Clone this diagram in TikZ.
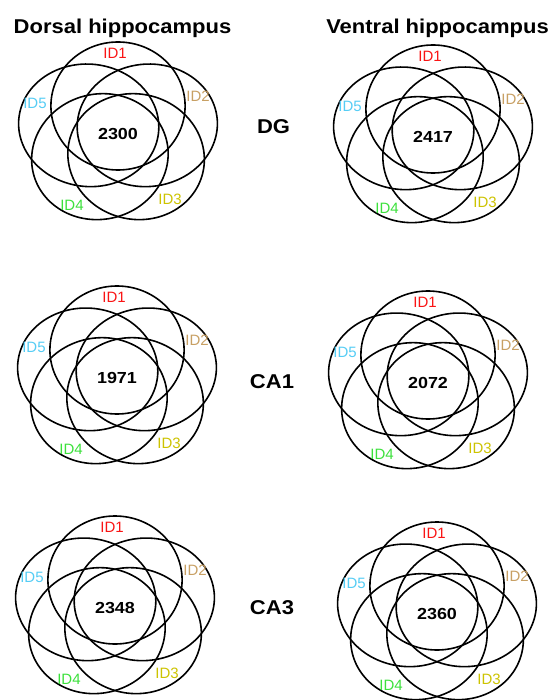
\documentclass[tikz,border=0pt]{standalone}
\usepackage{fontspec}
\setmainfont{Liberation Sans}
\definecolor{idA}{RGB}{250,20,20}
\definecolor{idB}{RGB}{200,160,100}
\definecolor{idC}{RGB}{205,195,0}
\definecolor{idD}{RGB}{60,225,60}
\definecolor{idE}{RGB}{85,205,245}

% geometry of one five-set diagram
\def\sx{1.1}   % horizontal stretch
\def\dd{28}    % offset of each ellipse from the centre
\def\ra{61}    % tangential semi-axis
\def\rb{64}    % radial semi-axis

\newcommand{\fivesets}[4]{%
  \begin{scope}[shift={(#2,#3)}]
    \begin{scope}[xscale=\sx]
      \foreach \k in {0,...,4}{%
        \draw[ring, rotate=-72*\k, shift={(0,-\dd)}] (0,0) ellipse [x radius=\ra, y radius=\rb];
      }
    \end{scope}
    \node[count] (#1-n) at (0,0) {#4};
    \node[tag, text=idA] (#1-a) at (-3,-81) {ID1};
    \node[tag, text=idB] (#1-b) at (80,-38) {ID2};
    \node[tag, text=idC] (#1-c) at (52,65) {ID3};
    \node[tag, text=idD] (#1-d) at (-46,71) {ID4};
    \node[tag, text=idE] (#1-e) at (-83,-31) {ID5};
  \end{scope}}

\tikzset{
  ring/.style={draw=black, line width=1.6pt},
  count/.style={font=\fontsize{16}{16}\selectfont\bfseries, inner sep=0pt, xscale=1.12},
  tag/.style={font=\fontsize{15}{15}\selectfont, inner sep=0pt},
  heading/.style={font=\fontsize{20}{20}\selectfont\bfseries, inner sep=0pt, anchor=base, xscale=1.1},
  region/.style={font=\fontsize{20}{20}\selectfont\bfseries, inner sep=0pt, anchor=base, xscale=1.1},
}

\begin{document}
\begin{tikzpicture}[x=1pt, y=-1pt]
  \useasboundingbox (0,0) rectangle (551,700);
  \clip (0,0) rectangle (551,700);
  \fill[white] (0,0) rectangle (551,700);

  \node[heading] (dorsal) at (122.5,34) {Dorsal hippocampus};
  \node[heading] (ventral) at (437.5,34) {Ventral hippocampus};

  \node[region] (dg) at (273.5,133.5) {DG};
  \node[region] (ca1) at (272,388) {CA1};
  \node[region] (ca3) at (272,614) {CA3};

  \fivesets{dgd}{118}{134}{2300}
  \fivesets{dgv}{433}{137}{2417}
  \fivesets{cad}{117}{378}{1971}
  \fivesets{cav}{428}{383}{2072}
  \fivesets{cbd}{115}{608}{2348}
  \fivesets{cbv}{437}{614}{2360}
\end{tikzpicture}
\end{document}
